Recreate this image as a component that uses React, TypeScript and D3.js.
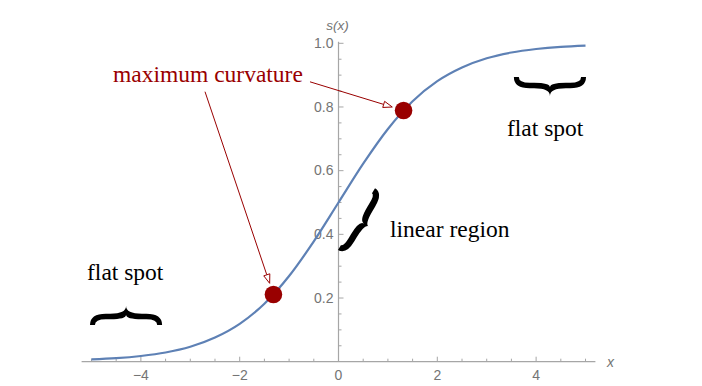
import React from "react";
import * as d3 from "d3";

// logistic curve s(x), every half unit
const curveX = [-5, -4.5, -4, -3.5, -3, -2.5, -2, -1.5, -1, -0.5, 0, 0.5, 1, 1.5, 2, 2.5, 3, 3.5, 4, 4.5, 5];
const curveS = [0.007, 0.011, 0.018, 0.029, 0.047, 0.076, 0.119, 0.182, 0.269, 0.378, 0.5, 0.622, 0.731, 0.818, 0.881, 0.924, 0.953, 0.971, 0.982, 0.989, 0.993];

// points of maximum curvature
const dotX = [-1.317, 1.317];
const dotS = [0.211, 0.789];

const xTicks = [-4, -2, 0, 2, 4];
const xTickLabels = ["\u22124", "\u22122", "0", "2", "4"];
const yTicks = [0.2, 0.4, 0.6, 0.8, 1.0];
const yTickLabels = ["0.2", "0.4", "0.6", "0.8", "1.0"];

// annotation anchors, in data units
const labels = [
  {text: "maximum curvature", x: -4.565, s: 0.878, color: "#990000"},
  {text: "flat spot", x: -5.09, s: 0.257, color: "#000"},
  {text: "flat spot", x: 3.411, s: 0.709, color: "#000"},
  {text: "linear region", x: 1.043, s: 0.393, color: "#000"},
];
const arrowFrom = [{x: -2.702, s: 0.848}, {x: -0.577, s: 0.879}];
const braces = [
  {x0: -5.03, s0: 0.115, x1: -3.57, s1: 0.115, h: 19, t: 5.5},
  {x0: 5.01, s0: 0.894, x1: 3.55, s1: 0.894, h: 19, t: 5.5},
  {x0: 0.739, s0: 0.545, x1: -0.01, s1: 0.351, h: 14, t: 6.5},
];

const W = 702, H = 386;
const DOT_R = 8.8;

function bracePath(L: number, h: number, t: number) {
  const w = L * 0.22, e = t * 0.9, yb = -h * 0.45;
  const o = yb - t / 2, i = yb + t / 2, m = L / 2;
  return `M0,0 Q0,${o} ${w},${o} L${m - w},${o} Q${m},${o} ${m},${-h} Q${m},${o} ${m + w},${o} ` +
    `L${L - w},${o} Q${L},${o} ${L},0 L${L - e},0 Q${L - e},${i} ${L - w},${i} L${m + w},${i} ` +
    `Q${m},${i} ${m},${o + 1} Q${m},${i} ${m - w},${i} L${w},${i} Q${e},${i} ${e},0 Z`;
}

export default function App() {
  const x = d3.scaleLinear().domain([-5.2, 5.2]).range([81.6, 595.4]);
  const y = d3.scaleLinear().domain([0, 1]).range([361.7, 43.3]);

  const line = d3.line<number>()
    .x((_, i) => x(curveX[i]))
    .y(d => y(d))
    .curve(d3.curveMonotoneX);

  const xMinor = d3.range(-5, 5.01, 0.5).filter(v => !xTicks.some(t => Math.abs(t - v) < 1e-6));
  const yMinor = d3.range(0.05, 1.001, 0.05).filter(v => !yTicks.some(t => Math.abs(t - v) < 1e-6));

  const axisColor = "#a6a6a6";
  const labelColor = "#747474";
  const sans = "'Liberation Sans', Arial, sans-serif";
  const serif = "'Liberation Serif', 'Times New Roman', serif";

  return (
    <svg width={W} height={H} viewBox={`0 0 ${W} ${H}`}
         style={{position: "absolute", left: 0, top: 0, background: "#fff"}}>
      {/* x axis */}
      <line x1={x(-5.2)} x2={x(5.2)} y1={y(0)} y2={y(0)} stroke={axisColor} strokeWidth={1.2} />
      {xTicks.map((t, i) => (
        <g key={"xt" + i}>
          <line x1={x(t)} x2={x(t)} y1={y(0)} y2={y(0) - 5} stroke={axisColor} strokeWidth={1} />
          <text x={x(t)} y={380} textAnchor="middle" fontFamily={sans} fontSize={14} fill={labelColor}>
            {xTickLabels[i]}
          </text>
        </g>
      ))}
      {xMinor.map((t, i) => (
        <line key={"xm" + i} x1={x(t)} x2={x(t)} y1={y(0)} y2={y(0) - 3} stroke={axisColor} strokeWidth={1} />
      ))}
      <text x={x(5.2) + 15} y={y(0) + 5} textAnchor="middle" fontFamily={sans} fontStyle="italic"
            fontSize={14} fill={labelColor}>x</text>

      {/* y axis */}
      <line x1={x(0)} x2={x(0)} y1={y(0)} y2={y(1.005)} stroke={axisColor} strokeWidth={1.2} />
      {yTicks.map((t, i) => (
        <g key={"yt" + i}>
          <line x1={x(0)} x2={x(0) + 5} y1={y(t)} y2={y(t)} stroke={axisColor} strokeWidth={1} />
          <text x={x(0) - 5} y={y(t) + 4.6} textAnchor="end" fontFamily={sans} fontSize={14} fill={labelColor}>
            {yTickLabels[i]}
          </text>
        </g>
      ))}
      {yMinor.map((t, i) => (
        <line key={"ym" + i} x1={x(0)} x2={x(0) + 3} y1={y(t)} y2={y(t)} stroke={axisColor} strokeWidth={1} />
      ))}
      <text x={x(0) - 1} y={30} textAnchor="middle" fontFamily={sans} fontStyle="italic"
            fontSize={13.5} fill={labelColor}>s(x)</text>

      {/* curve */}
      <path d={line(curveS) || ""} fill="none" stroke="#5e81b5" strokeWidth={2.2} />

      {/* arrows */}
      {arrowFrom.map((a, i) => {
        const x0 = x(a.x), y0 = y(a.s);
        const cx = x(dotX[i]), cy = y(dotS[i]);
        const dx = cx - x0, dy = cy - y0, len = Math.hypot(dx, dy);
        const ux = dx / len, uy = dy / len;
        const tx = cx - ux * (DOT_R + 3), ty = cy - uy * (DOT_R + 3);
        const hl = 9, hw = 3.2;
        const bx = tx - ux * hl, by = ty - uy * hl;
        const head = `M${tx},${ty} L${bx - uy * hw},${by + ux * hw} L${bx + uy * hw},${by - ux * hw} Z`;
        return (
          <g key={"ar" + i}>
            <line x1={x0} y1={y0} x2={bx} y2={by} stroke="#990000" strokeWidth={1} />
            <path d={head} fill="#fff" stroke="#990000" strokeWidth={1} />
          </g>
        );
      })}

      {/* dots */}
      {dotX.map((d, i) => (
        <circle key={"dot" + i} cx={x(d)} cy={y(dotS[i])} r={DOT_R} fill="#990000" />
      ))}

      {/* braces */}
      {braces.map((b, i) => {
        const px0 = x(b.x0), py0 = y(b.s0), px1 = x(b.x1), py1 = y(b.s1);
        const L = Math.hypot(px1 - px0, py1 - py0);
        const ang = Math.atan2(py1 - py0, px1 - px0) * 180 / Math.PI;
        return (
          <path key={"br" + i} d={bracePath(L, b.h, b.t)} fill="#000"
                transform={`translate(${px0},${py0}) rotate(${ang})`} />
        );
      })}

      {/* labels */}
      {labels.map((l, i) => (
        <text key={"lb" + i} x={x(l.x)} y={y(l.s)} fontFamily={serif} fontSize={23.5} fill={l.color}>
          {l.text}
        </text>
      ))}
    </svg>
  );
}
